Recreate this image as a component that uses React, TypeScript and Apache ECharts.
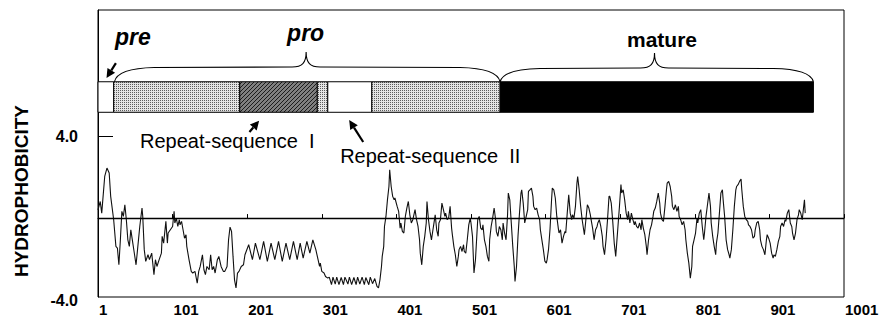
import React, { useEffect, useRef } from "react";
import * as echarts from "echarts";

const FONT = "'Liberation Sans', Arial, Helvetica, sans-serif";

// ---------- axis ticks ----------
const xTickValues = [1, 101, 201, 301, 401, 501, 601, 701, 801, 901, 1001];
const yTickValues = [-3.85, 4];
const yTickLabels = ["-4.0", "4.0"];

// ---------- hydrophobicity profile: [residue, hydrophobicity] ----------
const profilePre: [number, number][] = [
  [1, 0.4], [4, 0.81], [6, 0.24], [10, 2.03], [13, 2.44], [16, 2.2], [18, 1.06], [22, -0.08],
  [25, -1.38], [27, -1.46], [29, -2.28], [31, -1.06], [33, 0.33], [35, 0.08], [37, 0.65], [39, -0.08],
  [41, -1.06], [43, -1.38], [45, -0.57], [47, -1.06], [50, -1.79], [52, -2.28], [54, -1.54], [57, -0.41],
  [60, 0.49], [61, 0.08], [63, -1.54], [65, -2.11], [68, -1.79], [70, -2.03], [73, -1.71], [76, -2.76],
  [78, -2.03], [80, -2.36], [83, -2.03], [86, -1.71], [87, -0.89], [89, -1.22], [92, -0.16], [94, -1.22],
  [95, -0.73], [98, -0.57], [101, -0.41], [103, 0.33], [104, -0.24], [106, 0.0], [108, -0.41], [110, -0.08],
  [111, -0.33], [113, -0.16], [115, -0.57], [117, -0.98], [119, -0.81], [120, -1.38], [123, -2.03], [126, -2.6],
  [128, -2.68], [131, -2.6], [134, -3.17], [136, -2.6], [138, -2.36], [141, -1.79], [143, -2.52], [145, -2.76],
  [147, -2.36], [150, -2.52], [152, -1.79], [154, -2.52], [156, -2.36], [158, -2.68], [161, -2.03], [163, -1.87],
  [166, -2.36], [169, -2.6], [171, -2.6], [174, -2.36], [176, -1.06], [178, -0.44], [180, -0.65], [182, -1.87],
  [184, -3.01], [186, -3.41], [188, -2.68], [190, -2.6], [193, -2.36], [196, -2.28], [198, -1.79],
];

const profileRepeatI: [number, number][] = [
  [203, -1.3], [208, -2.03], [212, -1.22], [218, -2.03], [223, -1.14], [228, -2.11], [233, -1.22], [238, -2.03],
  [243, -1.14], [248, -2.11], [253, -1.22], [258, -2.03], [263, -1.14], [268, -2.03], [272, -1.22], [276, -1.95],
  [281, -1.14], [285, -1.71], [289, -1.06], [293, -1.54], [296, -2.03], [298, -2.36], [299, -2.2], [301, -2.6],
  [304, -2.68], [306, -2.85], [309, -2.93],
];

const profileRepeatII: [number, number][] = [
  [311, -2.88], [314, -3.25], [316, -2.88], [319, -3.22], [321, -2.88], [324, -3.25], [327, -2.9], [330, -3.25],
  [332, -2.88], [336, -3.22], [338, -2.88], [341, -3.25], [344, -2.9], [347, -3.25], [349, -2.88], [352, -3.22],
  [355, -2.88], [358, -3.25], [360, -2.9], [364, -3.25], [366, -2.88], [369, -3.2], [372, -2.95], [375, -3.33],
  [377, -3.41], [379, -3.0], [381, -2.36], [382, -1.87], [384, -1.38], [385, -0.41], [387, 0.08], [389, 0.89],
  [391, 1.54], [392, 2.36], [394, 1.54], [396, 1.06], [398, 0.89], [399, 0.98], [402, 0.57], [404, 0.33],
];

const profileProTail: [number, number][] = [
  [406, -0.49], [407, -0.24], [409, -0.65], [411, -0.73], [413, 0.08], [415, 0.49], [417, 0.81], [419, 0.16],
  [421, -0.24], [423, -0.08], [424, 0.08], [426, 0.41], [428, -0.08], [430, -0.41], [432, -1.06], [433, -1.71],
  [435, -2.28], [437, -1.38], [439, -0.89], [441, -0.24], [442, 0.81], [444, -0.08], [446, -0.65], [448, -1.06],
  [450, -0.57], [451, -0.33], [453, 0.16], [455, -0.57], [457, -0.89], [458, -0.24], [460, -0.08], [462, 0.73],
  [464, 0.41], [466, 0.08], [467, 0.24], [469, -0.08], [471, 0.0], [473, 0.57], [475, -0.49], [476, -0.81],
  [478, -1.38], [480, -1.79], [482, -2.36], [484, -1.87], [485, -1.54], [487, -1.38], [489, -1.63], [491, -1.3],
  [492, -1.63], [494, -1.71], [496, -1.06], [498, -0.33], [500, 0.0], [501, -0.24], [503, -0.89], [505, -2.68],
  [507, -2.03], [509, -0.73], [510, -0.08], [512, 0.08], [514, -0.49], [516, -0.57], [517, -0.33], [519, -1.06],
  [521, -1.38], [523, -1.87], [525, -2.11], [526, -1.06], [528, -0.41], [530, 0.0], [532, 0.49], [534, -0.08],
  [535, -0.65], [537, -0.89], [539, -0.41],
];

const profileMatureA: [number, number][] = [
  [541, -0.57], [543, -1.06], [544, -0.24], [546, -0.73], [548, -1.06], [550, 0.16], [551, 1.22], [553, 0.89],
  [555, -0.24], [557, -1.38], [559, -2.36], [560, -3.09], [562, -2.36], [564, -0.89], [566, 0.24], [568, 1.22],
  [569, 1.38], [571, 0.73], [573, -0.24], [575, 0.08], [577, 0.41], [578, 1.3], [580, 1.38], [582, 1.46],
  [584, 1.06], [585, 0.57], [587, 0.41], [589, 0.49], [591, 0.16], [593, -0.08], [594, -0.57], [596, -1.06],
  [598, -1.54], [600, -2.1], [602, -2.2], [603, -2.03], [605, -1.5], [607, -0.5], [609, 0.89], [610, 1.46],
  [612, 1.38], [614, 0.98], [616, 0.08], [618, -0.49], [619, -0.73], [621, -0.57], [623, -1.22], [625, -0.89],
  [627, -0.65], [628, -0.73], [630, 0.24], [632, 1.14], [634, 0.24], [636, -0.08], [637, 0.16], [639, 0.0],
  [641, 0.57], [643, 1.71], [644, 2.03], [646, 1.38], [648, 0.57], [650, -0.08], [652, -0.57], [653, -0.81],
  [655, -0.08], [657, 0.65], [659, 0.49], [661, 0.16], [662, -0.08], [664, -0.49], [666, -1.06], [668, -0.57],
  [670, -0.41], [671, -0.24], [673, -0.08], [675, -0.41], [677, -0.89], [678, -1.38], [680, -1.79], [682, -1.06],
  [684, -0.08], [686, 1.06], [687, 1.06], [689, 0.73], [691, -0.16], [693, -1.22], [695, -1.87], [696, -1.38],
  [698, -0.41], [700, 0.57], [702, 1.63], [703, 1.22], [705, 1.38], [707, 0.89], [709, 0.24], [711, -0.08],
  [712, 0.33], [714, -0.24], [716, 0.24], [718, -0.08], [720, -0.33], [721, -0.16], [723, -0.41], [725, -0.49],
  [727, -0.24], [729, -0.57], [730, -0.08], [732, -0.49], [734, -0.81], [736, -1.38], [737, -1.79], [739, -1.06],
  [741, -0.57], [743, -0.33], [745, 0.08], [746, 0.33], [748, 0.49], [750, 0.81], [752, 1.22], [754, 0.73],
  [755, 0.24], [757, -0.08], [759, -0.16], [761, 0.57], [763, 1.38], [764, 1.71], [766, 1.79], [768, 1.54],
  [770, 1.06], [771, 0.57], [773, 0.41], [775, 0.65], [777, 0.33], [779, 0.57], [780, 0.08], [782, -0.08],
  [784, -0.33], [786, -0.16], [788, -0.57], [789, -1.06], [791, -1.71], [793, -2.2], [795, -2.93], [797, -2.36],
  [798, -1.38], [800, -1.06], [802, -0.73], [804, 0.0], [805, -0.24], [807, 0.24],
];

const profileMatureB: [number, number][] = [
  [809, 0.41], [811, -0.41], [813, -1.06], [814, -0.73], [816, 0.08], [818, 0.65], [820, 1.22], [822, 0.57],
  [823, -0.24], [825, -0.89], [827, -1.38], [829, -1.79], [830, -1.22], [832, -0.73], [834, 0.24], [836, 1.22],
  [838, 1.38], [839, 0.89], [841, 0.08], [843, -1.06], [845, -1.54], [847, -1.79], [848, -1.95], [850, -1.54],
  [852, -0.57], [854, 0.57], [856, 1.38], [857, 1.54], [859, 1.63], [861, 1.79], [863, 1.9], [864, 1.38],
  [866, 0.57], [868, 0.08], [870, -0.08], [872, -0.16], [873, -0.33], [875, -0.41], [877, -0.57], [879, -0.98],
  [881, -0.89], [882, -0.57], [884, -0.24], [886, -0.16], [888, -0.57], [889, -1.06], [891, -1.38], [893, -1.54],
  [895, -1.79], [897, -1.06], [898, -0.81], [900, -0.98], [902, -1.22], [904, -1.71], [906, -1.95], [907, -1.79],
  [909, -1.87], [911, -1.54], [913, -1.14], [915, -0.89], [916, -0.41], [918, -0.24], [920, -0.41], [922, -0.08],
  [923, -0.16], [925, 0.24], [927, 0.41], [929, -0.24], [931, -0.41], [932, -0.73], [934, -1.06], [936, -0.73],
  [938, -0.08], [940, 0.16], [941, 0.41], [943, 0.24], [945, -0.08], [947, 0.57], [948, 0.89], [949, 0.24],
];

// ---------- precursor domain schematic (residue ranges) ----------
const domainStart = [1, 22, 191, 295, 309, 368, 540];
const domainEnd = [22, 191, 295, 309, 368, 540, 960];
const domainKind = ["blank", "stipple", "hatch", "stipple", "blank", "stipple", "solid"];

const braceStart = [23, 540];
const braceEnd = [540, 960];
const bracePeak = [280, 747];

const labelTexts = ["pre", "pro", "mature", "Repeat-sequence  I", "Repeat-sequence  II"];

function makePattern(kind: string): any {
  const c = document.createElement("canvas");
  const ctx = c.getContext("2d") as CanvasRenderingContext2D;
  if (kind === "stipple") {
    c.width = 2;
    c.height = 2;
    ctx.fillStyle = "#e4e4e4";
    ctx.fillRect(0, 0, 2, 2);
    ctx.fillStyle = "#5c5c5c";
    ctx.fillRect(0, 0, 1, 1);
  } else {
    c.width = 4;
    c.height = 4;
    ctx.fillStyle = "#808080";
    ctx.fillRect(0, 0, 4, 4);
    ctx.fillStyle = "#1c1c1c";
    for (let i = 0; i < 4; i++) ctx.fillRect(i, 3 - i, 1, 1);
  }
  return { image: c, repeat: "repeat" };
}

export default function App() {
  const ref = useRef<HTMLDivElement>(null);

  useEffect(() => {
    document.body.style.margin = "0";
    if (!ref.current) return;
    const chart = echarts.init(ref.current, undefined, { renderer: "svg" });

    const profile = [
      ...profilePre,
      ...profileRepeatI,
      ...profileRepeatII,
      ...profileProTail,
      ...profileMatureA,
      ...profileMatureB,
    ];

    const fills: Record<string, any> = {
      blank: "#ffffff",
      stipple: makePattern("stipple"),
      hatch: makePattern("hatch"),
      solid: "#000000",
    };

    // layout of the schematic in axis units
    const BAR_TOP = 6.65;
    const BAR_BOTTOM = 5.16;
    const braceFlat = [7.37, 7.32];
    const braceTop = [8.1, 8.05];

    const labelLayout = [
      { r: 23.8, v: 8.83, font: `italic bold 23px ${FONT}`, align: "left" },
      { r: 254.5, v: 9.02, font: `italic bold 23px ${FONT}`, align: "left" },
      { r: 757, v: 8.7, font: `bold 21px ${FONT}`, align: "center" },
      { r: 57.3, v: 3.74, font: `20px ${FONT}`, align: "left" },
      { r: 325.6, v: 3.01, font: `20px ${FONT}`, align: "left" },
    ];

    const arrowLayout = [
      { tail: [25, 7.56], tip: [12.4, 6.83] },
      { tail: [204, 4.2], tip: [217, 4.75] },
      { tail: [356.5, 3.71], tip: [337.7, 4.78] },
    ];

    const option: any = {
      animation: false,
      backgroundColor: "#ffffff",
      grid: {
        left: 98,
        right: 36,
        top: 10,
        bottom: 22,
        outerBoundsMode: "none",
        containLabel: false,
        show: true,
        borderColor: "#000",
        borderWidth: 1,
        backgroundColor: "transparent",
      },
      xAxis: {
        type: "value",
        min: 1,
        max: 1001,
        axisLine: { show: true, lineStyle: { color: "#000", width: 1 } },
        axisTick: {
          show: true,
          inside: true,
          length: 4,
          customValues: xTickValues,
          lineStyle: { color: "#000" },
        },
        axisLabel: {
          customValues: xTickValues,
          formatter: (v: number) => String(Math.round(v)),
          color: "#000",
          fontFamily: FONT,
          fontWeight: "bold",
          fontSize: 15,
          lineHeight: 15,
          align: "left",
          padding: [0, 0, 0, 1],
          margin: 5,
        },
        splitLine: { show: false },
      },
      yAxis: {
        type: "value",
        min: -3.85,
        max: 10.15,
        axisLine: { show: true, lineStyle: { color: "#000", width: 1 } },
        axisTick: {
          show: true,
          inside: true,
          length: 15,
          customValues: [4],
          lineStyle: { color: "#000" },
        },
        axisLabel: {
          customValues: yTickValues,
          formatter: (v: number) => {
            const i = yTickValues.findIndex((t) => Math.abs(t - v) < 1e-6);
            if (i < 0) return "";
            return v < 0 ? `{low|${yTickLabels[i]}}` : yTickLabels[i];
          },
          color: "#000",
          fontFamily: FONT,
          fontWeight: "bold",
          fontSize: 16,
          margin: 20,
          rich: {
            low: {
              color: "#000",
              fontFamily: FONT,
              fontWeight: "bold",
              fontSize: 16,
              padding: [7, 0, 0, 0],
            },
          },
        },
        splitLine: { show: false },
      },
      graphic: [
        {
          type: "text",
          x: 21,
          y: 191,
          rotation: Math.PI / 2,
          style: {
            text: "HYDROPHOBICITY",
            fill: "#000",
            font: `bold 19px ${FONT}`,
            textAlign: "center",
            textVerticalAlign: "middle",
            align: "center",
            verticalAlign: "middle",
          },
        },
      ],
      series: [
        {
          type: "line",
          data: profile,
          symbol: "none",
          showSymbol: false,
          silent: true,
          lineStyle: { color: "#111", width: 1.1 },
          markLine: {
            silent: true,
            symbol: "none",
            label: { show: false },
            lineStyle: { color: "#000", width: 1.3, type: "solid" },
            data: [{ yAxis: 0 }],
          },
          z: 3,
        },
        {
          type: "custom",
          silent: true,
          data: domainStart.map((s, i) => [s, domainEnd[i]]),
          encode: { x: [0, 1] },
          renderItem: (params: any, api: any) => {
            const i = params.dataIndex;
            const p0 = api.coord([domainStart[i], BAR_TOP]);
            const p1 = api.coord([domainEnd[i], BAR_BOTTOM]);
            return {
              type: "rect",
              shape: { x: p0[0], y: p0[1], width: p1[0] - p0[0], height: p1[1] - p0[1] },
              style: { fill: fills[domainKind[i]], stroke: "#000", lineWidth: 1 },
            };
          },
          z: 4,
        },
        {
          type: "custom",
          silent: true,
          data: braceStart.map((s, i) => [s, braceEnd[i]]),
          encode: { x: [0, 1] },
          renderItem: (params: any, api: any) => {
            const i = params.dataIndex;
            const a = api.coord([braceStart[i], BAR_TOP]);
            const b = api.coord([braceEnd[i], BAR_TOP]);
            const m = api.coord([bracePeak[i], braceTop[i]]);
            const f = api.coord([bracePeak[i], braceFlat[i]]);
            const x0 = a[0], x1 = b[0], yb = a[1], yf = f[1], xm = m[0], yp = m[1];
            const d =
              `M${x0},${yb} C${x0 + 2},${yf + 6} ${x0 + 14},${yf + 1} ${x0 + 40},${yf + 0.5} ` +
              `L${xm - 14},${yf} C${xm - 4},${yf} ${xm},${yf - 4} ${xm},${yp} ` +
              `C${xm},${yf - 4} ${xm + 4},${yf} ${xm + 14},${yf} ` +
              `L${x1 - 40},${yf + 0.5} C${x1 - 14},${yf + 1} ${x1 - 2},${yf + 6} ${x1},${yb}`;
            return {
              type: "path",
              shape: { pathData: d },
              style: { fill: "none", stroke: "#000", lineWidth: 1.1 },
            };
          },
          z: 4,
        },
        {
          type: "custom",
          silent: true,
          data: arrowLayout.map((a) => [a.tail[0], a.tip[0]]),
          encode: { x: [0, 1] },
          renderItem: (params: any, api: any) => {
            const a = arrowLayout[params.dataIndex];
            const t = api.coord(a.tail);
            const h = api.coord(a.tip);
            const dx = h[0] - t[0];
            const dy = h[1] - t[1];
            const len = Math.sqrt(dx * dx + dy * dy) || 1;
            const ux = dx / len, uy = dy / len;
            const hl = 9, hw = 4.5;
            const bx = h[0] - ux * hl, by = h[1] - uy * hl;
            return {
              type: "group",
              children: [
                {
                  type: "line",
                  shape: { x1: t[0], y1: t[1], x2: bx, y2: by },
                  style: { stroke: "#000", lineWidth: 2.2 },
                },
                {
                  type: "polygon",
                  shape: {
                    points: [
                      [h[0], h[1]],
                      [bx - uy * hw, by + ux * hw],
                      [bx + uy * hw, by - ux * hw],
                    ],
                  },
                  style: { fill: "#000" },
                },
              ],
            };
          },
          z: 5,
        },
        {
          type: "custom",
          silent: true,
          data: labelLayout.map((l) => [l.r]),
          encode: { x: 0 },
          renderItem: (params: any, api: any) => {
            const i = params.dataIndex;
            const l = labelLayout[i];
            const p = api.coord([l.r, l.v]);
            return {
              type: "text",
              x: p[0],
              y: p[1],
              style: {
                text: labelTexts[i],
                fill: "#000",
                font: l.font,
                textAlign: l.align,
                textVerticalAlign: "middle",
                align: l.align,
                verticalAlign: "middle",
              },
            };
          },
          z: 5,
        },
      ],
    };

    chart.setOption(option);
    return () => {
      chart.dispose();
    };
  }, []);

  return <div ref={ref} style={{ width: 880, height: 319 }} />;
}
